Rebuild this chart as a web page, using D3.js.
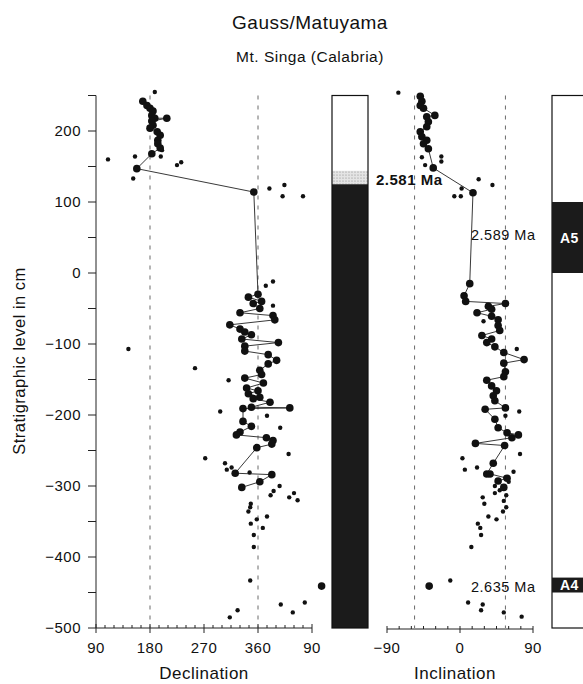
<!DOCTYPE html>
<html>

<head>
    <meta charset="UTF-8" />
    <title>Gauss/Matuyama</title>
    <style>
        body {
            margin: 0;
            padding: 0;
            background: white;
            font-family: 'Liberation Sans', Arial, sans-serif;
        }

        text {
            fill: #111;
            letter-spacing: 0.5px;
        }
    </style>
</head>

<body>
    <div id="chart"></div>

    <script src="https://cdnjs.cloudflare.com/ajax/libs/d3/7.8.5/d3.min.js"></script>

    <script>
        // [level (cm), declination (deg, east of north unwrapped past 360)]
        const decMain = [
            [242, 168], [236, 175], [232, 180], [228, 185], [222, 183], [218, 188], [218, 208], [214, 183],
            [208, 185], [204, 180], [199, 192], [194, 197], [187, 193], [182, 193], [176, 197], [168, 183],
            [147, 158], [114, 353],
            [-30, 360], [-34, 344], [-40, 366], [-43, 352], [-50, 363], [-56, 330], [-60, 385], [-66, 388],
            [-73, 313], [-79, 330], [-83, 338], [-87, 349], [-93, 333], [-98, 394], [-103, 338], [-110, 338],
            [-115, 377], [-123, 391], [-128, 377], [-137, 363], [-143, 366], [-148, 338], [-155, 369], [-162, 341],
            [-166, 360], [-170, 344], [-175, 363], [-177, 352], [-182, 380], [-189, 349], [-190, 413], [-191, 335],
            [-209, 335], [-216, 349], [-224, 330], [-228, 324], [-232, 374], [-236, 385], [-241, 383], [-246, 358],
            [-282, 322], [-284, 383], [-294, 363], [-302, 333]
        ]
        const decScatter = [
            [255, 188], [164, 155], [164, 198], [173, 200], [133, 152], [152, 225], [156, 232], [160, 110],
            [119, 379], [124, 404], [108, 401], [108, 435], [-12, 385], [-18, 373], [-46, 385], [-107, 144],
            [-134, 255], [-151, 311], [-195, 297], [-201, 375], [-218, 397], [-255, 411], [-261, 272], [-268, 305],
            [-274, 316], [-277, 308], [-281, 346], [-300, 396], [-307, 386], [-313, 381], [-316, 412], [-310, 420],
            [-320, 426], [-325, 348], [-330, 347], [-336, 344], [-343, 375], [-347, 358], [-353, 348], [-359, 368],
            [-369, 353], [-386, 353], [-433, 347], [-467, 398], [-464, 438], [-478, 418], [-475, 326], [-485, 313]
        ]
        const decIsolated = [[-441, 466]]

        // [level (cm), inclination (deg)]
        const incMain = [
            [249, -49], [242, -47], [236, -49], [232, -45], [222, -31], [220, -41], [213, -39], [206, -41],
            [199, -49], [192, -47], [187, -41], [182, -45], [175, -39], [148, -33], [113, 16],
            [-15, 12], [-32, 5], [-40, 7], [-43, 56], [-47, 35], [-51, 39], [-56, 21], [-61, 39], [-66, 47],
            [-74, 47], [-81, 49], [-88, 27], [-93, 39], [-98, 33], [-104, 43], [-112, 54], [-122, 79],
            [-127, 54], [-139, 56], [-146, 54], [-151, 33], [-159, 39], [-166, 45], [-173, 41], [-180, 43],
            [-190, 56], [-192, 31], [-206, 43], [-218, 47], [-225, 58], [-228, 72], [-232, 64], [-240, 19],
            [-243, 55], [-268, 41], [-283, 33], [-283, 37], [-289, 58], [-293, 47], [-302, 54]
        ]
        const incScatter = [
            [254, -76], [163, -47], [152, -43], [164, -23], [157, -23], [132, 23], [124, 40], [119, 2],
            [108, -7], [108, 1], [-68, 29], [-107, 70], [-201, 56], [-195, 73], [-255, 74], [-261, 3],
            [-277, 6], [-274, 21], [-280, 66], [-288, 56], [-294, 60], [-300, 43], [-306, 49], [-310, 43],
            [-313, 57], [-316, 28], [-325, 30], [-321, 54], [-330, 57], [-336, 53], [-343, 35], [-347, 45],
            [-353, 22], [-359, 25], [-369, 26], [-386, 14], [-433, -12], [-464, 10], [-467, 28], [-475, 26],
            [-478, 54], [-484, 76]
        ]
        const incIsolated = [[-441, -38]]

        const decGuides = [180, 360]
        const incGuides = [-56, 56]
        const decTicks = [90, 180, 270, 360, 450]
        const decTickLabels = ['90', '180', '270', '360', '90']
        const incTicks = [-90, 0, 90]

        // polarity column of the section: [top, bottom, kind]
        const polarity = [[250, 144, 'normal'], [144, 125, 'transition'], [125, -500, 'reversed']]
        // reference timescale: [top, bottom, name]
        const chrons = [[100, 0, 'A5'], [-429, -450, 'A4']]
        // age labels: [level, text]
        const ages = [[131, '2.581 Ma'], [53, '2.589 Ma'], [-442, '2.635 Ma']]

        const width = 583, height = 684

        const svg = d3.select('#chart').append('svg')
            .attr('width', width)
            .attr('height', height)

        const y = d3.scaleLinear().domain([-500, 250]).range([628, 95.5])
        const xDec = d3.scaleLinear().domain([90, 450]).range([96, 312])
        const xInc = d3.scaleLinear().domain([-90, 90]).range([387, 533])

        const defs = svg.append('defs')
        const pat = defs.append('pattern').attr('id', 'stipple')
            .attr('width', 3).attr('height', 3).attr('patternUnits', 'userSpaceOnUse')
        pat.append('rect').attr('width', 3).attr('height', 3).attr('fill', '#e4e4e4')
        pat.append('circle').attr('cx', 1).attr('cy', 1).attr('r', 0.6).attr('fill', '#888')

        // titles
        svg.append('text').attr('x', 310).attr('y', 29).attr('text-anchor', 'middle')
            .style('font-size', '19px').text('Gauss/Matuyama')
        svg.append('text').attr('x', 310).attr('y', 62).attr('text-anchor', 'middle')
            .style('font-size', '15.5px').text('Mt. Singa (Calabria)')

        // y axis
        const yAxis = svg.append('g').attr('transform', 'translate(96,0)')
        yAxis.append('line').attr('y1', y(250)).attr('y2', y(-500)).attr('stroke', '#222')
        d3.range(-500, 251, 50).forEach(v => {
            yAxis.append('line').attr('x1', -8).attr('x2', 0)
                .attr('y1', y(v)).attr('y2', y(v)).attr('stroke', '#222')
            if (v % 100 === 0) {
                yAxis.append('text').attr('x', -15).attr('y', y(v) + 5)
                    .attr('text-anchor', 'end').style('font-size', '15px')
                    .text(v < 0 ? '\u2212' + Math.abs(v) : v)
            }
        })
        svg.append('text')
            .attr('transform', 'translate(25,361) rotate(-90)')
            .attr('text-anchor', 'middle').style('font-size', '16.5px')
            .text('Stratigraphic level in cm')

        // declination axis
        const decAx = svg.append('g').attr('transform', 'translate(0,628)')
        decAx.append('line').attr('x1', xDec(90)).attr('x2', xDec(450)).attr('stroke', '#222')
        d3.range(90, 451, 15).forEach(v => {
            const major = decTicks.includes(v)
            decAx.append('line').attr('x1', xDec(v)).attr('x2', xDec(v))
                .attr('y1', major ? -4 : -3).attr('y2', major ? 5 : 0).attr('stroke', '#222')
        })
        decTicks.forEach((v, i) => {
            decAx.append('text').attr('x', xDec(v)).attr('y', 25).attr('text-anchor', 'middle')
                .style('font-size', '15px').text(decTickLabels[i])
        })
        svg.append('text').attr('x', 204).attr('y', 679).attr('text-anchor', 'middle')
            .style('font-size', '17px').text('Declination')

        // inclination axis
        const incAx = svg.append('g').attr('transform', 'translate(0,629)')
        incAx.append('line').attr('x1', xInc(-90)).attr('x2', xInc(90)).attr('stroke', '#222')
        d3.range(-90, 91, 15).forEach(v => {
            const major = incTicks.includes(v)
            incAx.append('line').attr('x1', xInc(v)).attr('x2', xInc(v))
                .attr('y1', -3).attr('y2', major ? 4 : 0).attr('stroke', '#222')
        })
        incTicks.forEach(v => {
            incAx.append('text').attr('x', xInc(v)).attr('y', 24).attr('text-anchor', 'middle')
                .style('font-size', '15px').text(v < 0 ? '\u2212' + Math.abs(v) : v)
        })
        svg.append('text').attr('x', 455).attr('y', 679).attr('text-anchor', 'middle')
            .style('font-size', '17px').text('Inclination')

        // dashed guide lines
        svg.selectAll('.decGuide').data(decGuides).join('line')
            .attr('x1', d => xDec(d)).attr('x2', d => xDec(d))
            .attr('y1', y(250)).attr('y2', y(-500))
            .attr('stroke', '#444').attr('stroke-width', 0.8).attr('stroke-dasharray', '4,6')
        svg.selectAll('.incGuide').data(incGuides).join('line')
            .attr('x1', d => xInc(d)).attr('x2', d => xInc(d))
            .attr('y1', y(250)).attr('y2', y(-500))
            .attr('stroke', '#444').attr('stroke-width', 0.8).attr('stroke-dasharray', '4,6')

        function drawPanel(main, scatter, isolated, x) {
            const line = d3.line().x(d => x(d[1])).y(d => y(d[0]))
            svg.append('path').datum(main).attr('d', line)
                .attr('fill', 'none').attr('stroke', '#222').attr('stroke-width', 0.9)
            svg.append('g').selectAll('circle').data(scatter).join('circle')
                .attr('cx', d => x(d[1])).attr('cy', d => y(d[0])).attr('r', 2.2).attr('fill', '#111')
            svg.append('g').selectAll('circle').data(main.concat(isolated)).join('circle')
                .attr('cx', d => x(d[1])).attr('cy', d => y(d[0])).attr('r', 3.8).attr('fill', '#111')
        }
        drawPanel(decMain, decScatter, decIsolated, xDec)
        drawPanel(incMain, incScatter, incIsolated, xInc)

        // polarity column
        const colX = 332, colW = 36
        svg.append('g').selectAll('rect').data(polarity).join('rect')
            .attr('x', colX).attr('width', colW)
            .attr('y', d => y(d[0])).attr('height', d => y(d[1]) - y(d[0]))
            .attr('fill', d => d[2] === 'normal' ? 'white' : d[2] === 'transition' ? 'url(#stipple)' : '#1b1b1b')
        svg.append('rect').attr('x', colX).attr('width', colW)
            .attr('y', y(250)).attr('height', y(-500) - y(250))
            .attr('fill', 'none').attr('stroke', '#111').attr('stroke-width', 1.2)

        // reference timescale column
        const refX = 552
        svg.append('rect').attr('x', refX).attr('width', 60)
            .attr('y', y(250)).attr('height', y(-500) - y(250))
            .attr('fill', 'white').attr('stroke', '#111').attr('stroke-width', 1.2)
        svg.append('g').selectAll('rect').data(chrons).join('rect')
            .attr('x', refX).attr('width', 60)
            .attr('y', d => y(d[0])).attr('height', d => y(d[1]) - y(d[0]))
            .attr('fill', '#1b1b1b')
        svg.append('g').selectAll('text').data(chrons).join('text')
            .attr('x', refX + 8).attr('y', d => y((d[0] + d[1]) / 2) + 5)
            .style('font-size', '14px').style('font-weight', 'bold').style('fill', 'white')
            .text(d => d[2])

        // age labels
        svg.append('text').attr('x', 376).attr('y', y(ages[0][0]) + 5)
            .style('font-size', '15px').style('font-weight', 'bold').text(ages[0][1])
        svg.append('text').attr('x', 471).attr('y', y(ages[1][0]) + 5)
            .style('font-size', '14.5px').text(ages[1][1])
        svg.append('text').attr('x', 471).attr('y', y(ages[2][0]) + 5)
            .style('font-size', '14.5px').text(ages[2][1])
    </script>
</body>

</html>
